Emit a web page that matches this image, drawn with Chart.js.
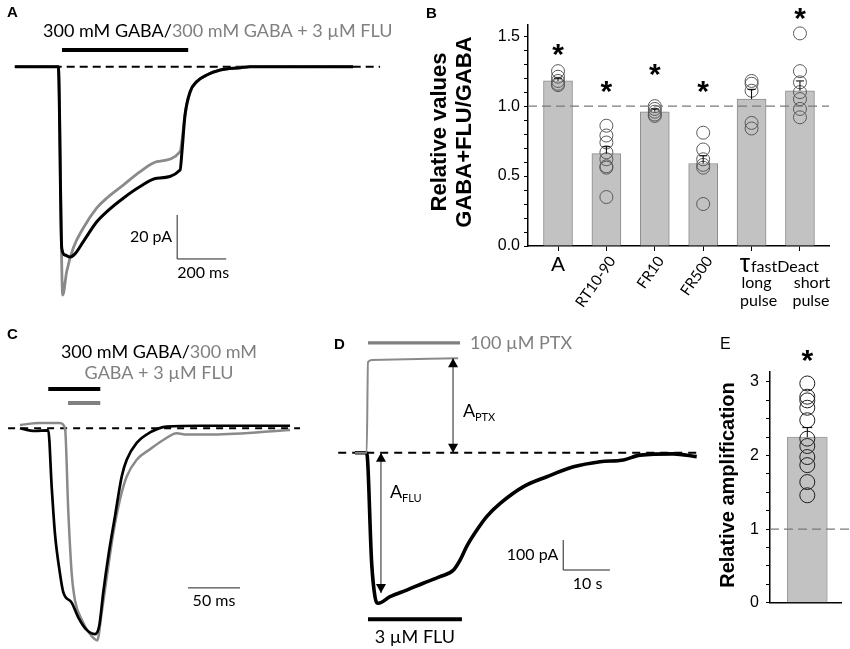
<!DOCTYPE html>
<html>
<head>
<meta charset="utf-8">
<script src="https://cdn.jsdelivr.net/npm/chart.js@4.4.0/dist/chart.umd.min.js"></script>
<style>
  body { margin: 0; background: #fff; }
  #fig { position: relative; width: 850px; height: 649px; overflow: hidden; background: #fff; }
  canvas { position: absolute; }
</style>
</head>
<body>
<div id="fig">
  <canvas id="chartA" width="420" height="310" style="left:0;top:0"></canvas>
  <canvas id="chartB" width="430" height="320" style="left:420px;top:0"></canvas>
  <canvas id="chartC" width="320" height="339" style="left:0;top:310px"></canvas>
  <canvas id="chartD" width="380" height="339" style="left:320px;top:310px"></canvas>
  <canvas id="chartE" width="150" height="339" style="left:700px;top:310px"></canvas>
</div>
<script>
// ---- Panel A: 300 mM GABA, long pulse (time in ms, current in pA)
const aBlackT = [-177, 0, 14, 27, 48, 68, 102, 157, 198, 265, 334, 402, 497, 505, 517, 538, 565, 606, 661, 742, 783, 1203];
const aBlackI = [0, 0, -82.4, -85.6, -86.5, -85.1, -79.5, -70.5, -65.9, -59.8, -54.5, -50.7, -47.0, -38, -22, -11.4, -6.8, -3.8, -1.5, -0.5, 0, 0];
const aGrayT = [-177, 0, 18, 34, 61, 102, 157, 198, 265, 334, 402, 497, 503, 517, 538, 565, 606, 661, 742, 783, 1203];
const aGrayI = [0, 0, -103.8, -93.2, -82.4, -73.3, -64.2, -59.7, -53.8, -47.7, -43.2, -38.6, -35, -22, -11.4, -6.8, -3.8, -1.5, -0.5, 0, 0];

// ---- Panel B: relative values GABA+FLU/GABA
const catsB = ['A', 'RT10-90', 'FR10', 'FR500', 'long pulse', 'short pulse'];
const meansB = [1.18, 0.66, 0.96, 0.59, 1.05, 1.11];
const semB = [0.02, 0.05, 0.02, 0.055, 0.07, 0.07];
const ptsB = [
  [1.25, 1.21, 1.18, 1.16, 1.15],
  [0.86, 0.79, 0.74, 0.67, 0.62, 0.57, 0.56, 0.35],
  [1.00, 0.98, 0.96, 0.94, 0.93],
  [0.81, 0.69, 0.62, 0.58, 0.56, 0.30],
  [1.18, 1.16, 1.11, 0.88, 0.84],
  [1.52, 1.25, 1.17, 1.10, 1.05, 0.98, 0.92]
];
const starB = [1.42, 1.16, 1.28, 1.16, null, 1.68];

// ---- Panel C: short pulse (time in ms, normalised current)
const cBlackT = [-27.2, -13, 0, 3.3, 6.4, 11.2, 14.4, 22.5, 28.8, 36.9, 44.9, 49.0, 52.9, 57.7, 64.1, 70.6, 75.4, 85.0, 97.8, 113.8, 146, 232.4];
const cBlackI = [0, -0.013, -0.01, -0.28, -0.50, -0.69, -0.78, -0.83, -0.90, -0.96, -0.98, -0.94, -0.78, -0.61, -0.42, -0.23, -0.15, -0.07, -0.02, 0.008, 0.012, 0.012];
const cGrayT = [-27.2, -8, 11.2, 16.1, 19.2, 22.5, 25.7, 32.1, 40.1, 47.1, 51.3, 56.2, 62.5, 68.9, 75.4, 85.0, 97.8, 110.6, 123.5, 133.1, 158.4, 232.4];
const cGrayI = [0.016, 0.025, 0.025, 0, -0.39, -0.69, -0.82, -0.91, -0.98, -1.01, -0.88, -0.71, -0.50, -0.34, -0.23, -0.15, -0.10, -0.056, -0.024, -0.03, -0.03, -0.008];

// ---- Panel D: FLU alone and PTX (time in s, current in pA)
const dBlackT = [-2.5, 0, 1.07, 1.78, 2.49, 4.99, 8.57, 12.1, 15.7, 18.6, 20.0, 21.4, 23.6, 25.7, 28.6, 33.6, 38.6, 44.3, 50.0, 55.0, 58.6, 65.7, 70.7];
const dBlackI = [0, 0, -369, -480, -502, -480, -458, -435, -413, -391, -358, -313, -258, -213, -169, -113, -80, -47, -30, -24, -8, -4, -13];
const dGrayT = [-2.5, 0, 0.28, 1.1, 19.6];
const dGrayI = [0, 0, 302, 309, 315];

// ---- Panel E: relative amplification
const meanE = 2.25;
const semE = 0.13;
const ptsE = [2.98, 2.80, 2.75, 2.65, 2.48, 2.23, 2.13, 1.98, 1.87, 1.64, 1.46];

const BLACK = '#000';
const GRAY = '#808080';
const TXT = 'Lato';
const AX = 'Liberation Sans';

function pairs(t, v) { return t.map((x, i) => ({ x: x, y: v[i] })); }

function seg(ctx, x1, y1, x2, y2, color, width, dash) {
  ctx.save();
  ctx.beginPath();
  ctx.strokeStyle = color;
  ctx.lineWidth = width;
  ctx.setLineDash(dash || []);
  ctx.moveTo(x1, y1);
  ctx.lineTo(x2, y2);
  ctx.stroke();
  ctx.restore();
}

function drawParts(ctx, parts, x, y, font, align) {
  ctx.save();
  ctx.font = font;
  ctx.textBaseline = 'middle';
  ctx.textAlign = 'left';
  const w = parts.reduce((s, p) => s + ctx.measureText(p[0]).width, 0);
  let cx = align === 'center' ? x - w / 2 : (align === 'right' ? x - w : x);
  parts.forEach(p => {
    ctx.fillStyle = p[1];
    ctx.fillText(p[0], cx, y);
    cx += ctx.measureText(p[0]).width;
  });
  ctx.restore();
}

function label(ctx, s, x, y, font, color, align) {
  drawParts(ctx, [[s, color || BLACK]], x, y, font, align || 'left');
}

function star(ctx, x, y, size) {
  ctx.save();
  ctx.font = 'bold ' + size + 'px ' + AX;
  ctx.fillStyle = BLACK;
  ctx.textAlign = 'center';
  ctx.textBaseline = 'alphabetic';
  ctx.fillText('*', x, y + size * 0.57);
  ctx.restore();
}

function head(ctx, x, y, dir) {
  ctx.save();
  ctx.fillStyle = BLACK;
  ctx.beginPath();
  ctx.moveTo(x, y);
  ctx.lineTo(x - 5, y - dir * 9);
  ctx.lineTo(x + 5, y - dir * 9);
  ctx.closePath();
  ctx.fill();
  ctx.restore();
}

function vtitle(ctx, s, x, y, font) {
  ctx.save();
  ctx.translate(x, y);
  ctx.rotate(-Math.PI / 2);
  ctx.font = font;
  ctx.fillStyle = BLACK;
  ctx.textAlign = 'center';
  ctx.textBaseline = 'middle';
  ctx.fillText(s, 0, 0);
  ctx.restore();
}

function traceChart(id, xr, yr, datasets, before, after) {
  return new Chart(document.getElementById(id), {
    type: 'line',
    data: { datasets: datasets },
    options: {
      responsive: false,
      animation: false,
      layout: { padding: 0 },
      scales: {
        x: { type: 'linear', display: false, min: xr[0], max: xr[1] },
        y: { type: 'linear', display: false, min: yr[0], max: yr[1] }
      },
      plugins: { legend: { display: false }, tooltip: { enabled: false } },
      elements: { point: { radius: 0 }, line: { cubicInterpolationMode: 'monotone' } }
    },
    plugins: [{
      id: 'extras',
      beforeDatasetsDraw: c => before(c, c.ctx, v => c.scales.x.getPixelForValue(v), v => c.scales.y.getPixelForValue(v)),
      afterDatasetsDraw: c => after(c, c.ctx, v => c.scales.x.getPixelForValue(v), v => c.scales.y.getPixelForValue(v))
    }]
  });
}

function trace(t, v, color, width) {
  return { data: pairs(t, v), borderColor: color, borderWidth: width, pointRadius: 0, fill: false };
}

// Panel A
traceChart('chartA', [-238, 1476], [-110.6, 30.3],
  [trace(aBlackT, aBlackI, BLACK, 3), trace(aGrayT, aGrayI, '#8a8a8a', 2.8)],
  (c, ctx, X, Y) => {
    seg(ctx, X(-178), Y(0), X(1313), Y(0), BLACK, 2, [8, 5]);
  },
  (c, ctx, X, Y) => {
    label(ctx, 'A', 7, 13, 'bold 15px ' + AX);
    seg(ctx, X(15), Y(7.6), X(530), Y(7.6), BLACK, 4);
    drawParts(ctx, [['300 mM GABA/', BLACK], ['300 mM GABA + 3 \u00b5M FLU', GRAY]], 43, 31, '18px ' + TXT, 'left');
    seg(ctx, X(485), Y(-67.4), X(485), Y(-87.4), '#222', 1);
    seg(ctx, X(485), Y(-87.4), X(685), Y(-87.4), '#222', 1);
    label(ctx, '20 pA', X(485) - 5, Y(-77.4), '16px ' + TXT, BLACK, 'right');
    label(ctx, '200 ms', X(485), Y(-87.4) + 14, '16px ' + TXT, BLACK, 'left');
  });

// Panel C
traceChart('chartC', [-46.4, 261.2], [-1.051, 0.563],
  [trace(cBlackT, cBlackI, BLACK, 2.7), trace(cGrayT, cGrayI, '#8a8a8a', 2.5)],
  (c, ctx, X, Y) => {
    seg(ctx, X(-38.6), Y(0), X(242), Y(0), BLACK, 2, [7, 6]);
  },
  (c, ctx, X, Y) => {
    label(ctx, 'C', 7, 25, 'bold 15px ' + AX);
    drawParts(ctx, [['300 mM GABA/', BLACK], ['300 mM', GRAY]], 159, 42, '18px ' + TXT, 'center');
    drawParts(ctx, [['GABA + 3 \u00b5M FLU', GRAY]], 159, 63, '18px ' + TXT, 'center');
    seg(ctx, X(0), Y(0.187), X(50), Y(0.187), BLACK, 4);
    seg(ctx, X(19), Y(0.12), X(50), Y(0.12), GRAY, 4);
    seg(ctx, X(134.3), Y(-0.76), X(184.3), Y(-0.76), '#222', 1);
    label(ctx, '50 ms', (X(134.3) + X(184.3)) / 2, Y(-0.76) + 13, '16px ' + TXT, BLACK, 'center');
  });

// Panel D
traceChart('chartD', [-10.0, 71.4], [-654.3, 475.7],
  [trace(dGrayT, dGrayI, '#8a8a8a', 2), trace(dBlackT, dBlackI, BLACK, 3.6)],
  (c, ctx, X, Y) => {
    seg(ctx, X(-6.1), Y(0), X(70.8), Y(0), BLACK, 2, [8, 6]);
  },
  (c, ctx, X, Y) => {
    label(ctx, 'D', 14, 35, 'bold 15px ' + AX);
    seg(ctx, X(0.28), Y(366), X(20), Y(366), GRAY, 3.3);
    label(ctx, '100 \u00b5M PTX', X(20) + 10, Y(366), '18px ' + TXT, GRAY, 'left');
    seg(ctx, X(0.28), Y(-555), X(20.4), Y(-555), BLACK, 4);
    label(ctx, '3 \u00b5M FLU', (X(0.28) + X(20.4)) / 2, Y(-555) + 18, '18px ' + TXT, BLACK, 'center');
    // amplitude arrows
    seg(ctx, X(18.5), Y(315), X(18.5), Y(0), '#222', 1);
    head(ctx, X(18.5), Y(315), -1);
    head(ctx, X(18.5), Y(0), 1);
    seg(ctx, X(3.06), Y(0), X(3.06), Y(-468), '#222', 1);
    head(ctx, X(3.06), Y(0), -1);
    head(ctx, X(3.06), Y(-468), 1);
    drawParts(ctx, [['A', BLACK]], 143, 101, '18px ' + TXT, 'left');
    drawParts(ctx, [['PTX', BLACK]], 155, 107, '11px ' + TXT, 'left');
    drawParts(ctx, [['A', BLACK]], 70, 182, '18px ' + TXT, 'left');
    drawParts(ctx, [['FLU', BLACK]], 82, 188, '11px ' + TXT, 'left');
    // scale bar 100 pA / 10 s
    seg(ctx, X(42.1), Y(-291), X(42.1), Y(-391), '#222', 1);
    seg(ctx, X(42.1), Y(-391), X(52.1), Y(-391), '#222', 1);
    label(ctx, '100 pA', X(42.1) - 5, Y(-341), '16px ' + TXT, BLACK, 'right');
    label(ctx, '10 s', (X(42.1) + X(52.1)) / 2 + 1, Y(-391) + 14, '16px ' + TXT, BLACK, 'center');
  });

// Panel B
new Chart(document.getElementById('chartB'), {
  type: 'bar',
  data: {
    datasets: [
      {
        type: 'scatter',
        data: ptsB.flatMap((arr, i) => arr.map(v => ({ x: i, y: v }))),
        pointRadius: 6.5,
        pointBackgroundColor: 'rgba(255,255,255,0)',
        pointBorderColor: '#5a5a5a',
        pointBorderWidth: 1
      },
      {
        type: 'bar',
        data: meansB.map((v, i) => ({ x: i, y: v })),
        backgroundColor: '#c2c2c2',
        borderColor: '#8c8c8c',
        borderWidth: 1,
        barThickness: 29
      }
    ]
  },
  options: {
    responsive: false,
    animation: false,
    layout: { padding: { left: 0, right: 21, top: 25, bottom: 0 } },
    plugins: { legend: { display: false }, tooltip: { enabled: false } },
    scales: {
      x: {
        type: 'linear', min: -0.62, max: 5.6, offset: false,
        grid: { display: true, drawOnChartArea: false, offset: false, tickLength: 5, tickColor: BLACK },
        border: { color: BLACK, width: 1.5 },
        ticks: { display: false },
        afterBuildTicks: s => { s.ticks = catsB.map((c, i) => ({ value: i })); },
        afterFit: s => { s.height = 74; }
      },
      y: {
        min: 0, max: 1.58,
        grid: { display: true, drawOnChartArea: false, tickLength: 4, tickColor: BLACK },
        border: { color: BLACK, width: 1.5 },
        ticks: {
          autoSkip: false, padding: 4, color: BLACK, font: { family: AX, size: 16 },
          callback: v => (Math.abs(v * 2 - Math.round(v * 2)) < 1e-6 ? v.toFixed(1) : '')
        },
        afterBuildTicks: s => { s.ticks = Array.from({ length: 16 }, (_, i) => ({ value: i / 10 })); },
        afterFit: s => { s.width = 108; }
      }
    }
  },
  plugins: [{
    id: 'extrasB',
    afterDatasetsDraw: c => {
      const ctx = c.ctx, X = v => c.scales.x.getPixelForValue(v), Y = v => c.scales.y.getPixelForValue(v);
      const a = c.chartArea;
      seg(ctx, a.left, Y(1), a.right, Y(1), '#7a7a7a', 1.2, [9, 5]);
      meansB.forEach((m, i) => {
        seg(ctx, X(i), Y(m), X(i), Y(m + semB[i]), BLACK, 1);
        seg(ctx, X(i) - 4, Y(m + semB[i]), X(i) + 4, Y(m + semB[i]), BLACK, 1);
        if (starB[i] !== null) star(ctx, X(i), Y(starB[i]), 30);
      });
      label(ctx, 'B', 6, 14, 'bold 15px ' + AX);
      vtitle(ctx, 'Relative values', 20, 132, 'bold 22px ' + AX);
      vtitle(ctx, 'GABA+FLU/GABA', 45, 132, 'bold 22px ' + AX);
      // category labels
      label(ctx, 'A', X(0), a.bottom + 19, '21px ' + AX, BLACK, 'center');
      [1, 2, 3].forEach(i => {
        ctx.save();
        ctx.translate(X(i) + 6, a.bottom + 12);
        ctx.rotate(-55 * Math.PI / 180);
        ctx.font = '15px ' + TXT;
        ctx.fillStyle = BLACK;
        ctx.textAlign = 'right';
        ctx.textBaseline = 'middle';
        ctx.fillText(catsB[i], 0, 0);
        ctx.restore();
      });
      ctx.save();
      ctx.fillStyle = BLACK;
      ctx.textBaseline = 'alphabetic';
      ctx.textAlign = 'left';
      ctx.font = '26px ' + AX;
      const tx = (X(4) + X(5)) / 2 - 36;
      ctx.fillText('\u03c4', tx, a.bottom + 26);
      const tw = ctx.measureText('\u03c4').width;
      ctx.font = '16px ' + TXT;
      ctx.fillText('fastDeact', tx + tw + 1, a.bottom + 26);
      ctx.restore();
      label(ctx, 'long', X(4) + 5, a.bottom + 37, '16px ' + TXT, BLACK, 'center');
      label(ctx, 'pulse', X(4) + 7, a.bottom + 55, '16px ' + TXT, BLACK, 'center');
      label(ctx, 'short', X(5) + 12, a.bottom + 37, '16px ' + TXT, BLACK, 'center');
      label(ctx, 'pulse', X(5) + 11, a.bottom + 55, '16px ' + TXT, BLACK, 'center');
    }
  }]
});

// Panel E
new Chart(document.getElementById('chartE'), {
  type: 'bar',
  data: {
    datasets: [
      {
        type: 'scatter',
        data: ptsE.map(v => ({ x: 0, y: v })),
        pointRadius: 7.5,
        pointBackgroundColor: 'rgba(255,255,255,0)',
        pointBorderColor: '#1e1e1e',
        pointBorderWidth: 1
      },
      {
        type: 'bar',
        data: [{ x: 0, y: meanE }],
        backgroundColor: '#c2c2c2',
        borderColor: '#9a9a9a',
        borderWidth: 1,
        barThickness: 40
      }
    ]
  },
  options: {
    responsive: false,
    animation: false,
    layout: { padding: { left: 0, right: 3.3, top: 61.7, bottom: 0 } },
    plugins: { legend: { display: false }, tooltip: { enabled: false } },
    scales: {
      x: {
        type: 'linear', min: -1, max: 0.917, offset: false,
        grid: { display: false, offset: false },
        border: { color: BLACK, width: 1.5 },
        ticks: { display: false },
        afterFit: s => { s.height = 46.3; }
      },
      y: {
        min: 0, max: 3.14,
        grid: { display: true, drawOnChartArea: false, tickLength: 4, tickColor: BLACK },
        border: { color: BLACK, width: 1.5 },
        ticks: {
          autoSkip: false, padding: 7, color: BLACK, font: { family: AX, size: 16 },
          callback: v => (Math.abs(v - Math.round(v)) < 1e-6 ? String(Math.round(v)) : '')
        },
        afterBuildTicks: s => { s.ticks = Array.from({ length: 13 }, (_, i) => ({ value: i / 4 })); },
        afterFit: s => { s.width = 70; }
      }
    }
  },
  plugins: [{
    id: 'extrasE',
    afterDatasetsDraw: c => {
      const ctx = c.ctx, X = v => c.scales.x.getPixelForValue(v), Y = v => c.scales.y.getPixelForValue(v);
      const a = c.chartArea;
      seg(ctx, a.left, Y(1), c.width, Y(1), '#7a7a7a', 1.2, [9, 5]);
      seg(ctx, X(0), Y(meanE), X(0), Y(meanE + semE), BLACK, 1);
      seg(ctx, X(0) - 5, Y(meanE + semE), X(0) + 5, Y(meanE + semE), BLACK, 1);
      star(ctx, X(0), Y(3.39), 30);
      label(ctx, 'E', 20, 35, '16px ' + AX);
      vtitle(ctx, 'Relative amplification', 28, 175, 'bold 20px ' + AX);
    }
  }]
});
</script>
</body>
</html>
